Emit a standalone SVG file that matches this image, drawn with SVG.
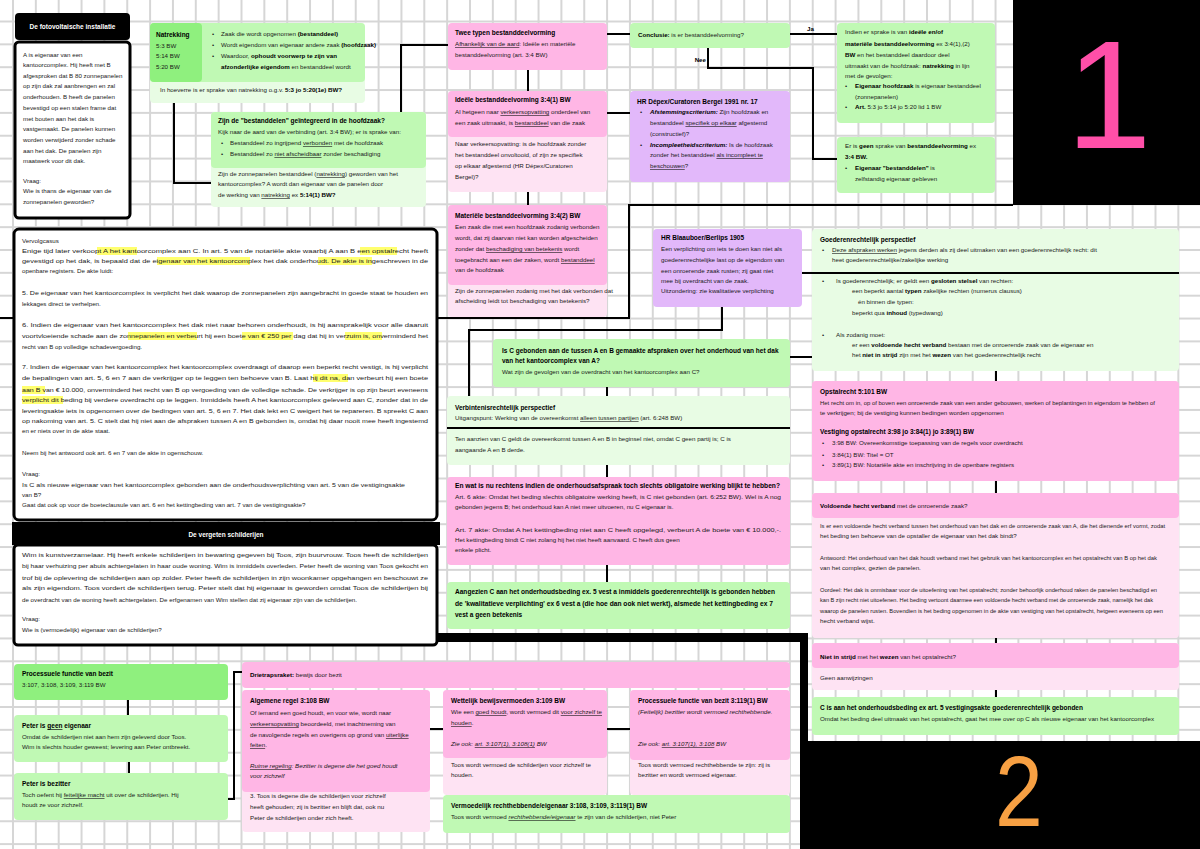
<svg xmlns="http://www.w3.org/2000/svg" width="1200" height="849" viewBox="0 0 1200 849">
<defs>
<pattern id="grid" width="22.85" height="22.85" patternUnits="userSpaceOnUse" x="12" y="20.5">
<path d="M1 0 V22.85 M0 1 H22.85" stroke="#d6d6d6" stroke-width="2" fill="none"/>
</pattern>
</defs>
<style>
.t{font-family:"Liberation Sans",Arial,sans-serif;font-size:6.2px;fill:#1a1a1a}
.b{font-weight:bold;fill:#000}
.h{font-family:"Liberation Sans",Arial,sans-serif;font-weight:bold;font-size:6.5px;fill:#000}
.i{font-style:italic}
.w{fill:#fff}
.pk{fill:#ffb6e5}.lpk{fill:#fee3f3}.gr{fill:#c0f9b4}.dg{fill:#8ff07e}.lg{fill:#e8fce4}.pu{fill:#e2b8fa}
.bx{fill:#fff;stroke:#000;stroke-width:3}
.c{fill:none;stroke:#000;stroke-width:2}
.hl{fill:#ffff6e}
</style>
<rect width="1200" height="849" fill="#fff"/>
<rect width="1200" height="849" fill="url(#grid)"/>

<g id="regions">
<rect x="1013" y="0" width="187" height="205" fill="#000"/>
<text x="1066" y="148" font-family="Liberation Sans,Arial,sans-serif" font-size="154" fill="#ff4fa8">1</text>
<rect x="800" y="741" width="400" height="108" fill="#000"/>
<text transform="translate(995,826) scale(0.86,1)" font-family="Liberation Sans,Arial,sans-serif" font-size="100" fill="#f7a043">2</text>
<rect x="437" y="633" width="371" height="9" fill="#000"/>
<rect x="800" y="633" width="8" height="110" fill="#000"/>
</g>

<g id="connectors">
<path class="c" d="M0 318 H629 V205 H1013"/>
<path class="c" d="M174 103 V183 H211"/>
<path class="c" d="M401 112 V45 H448"/>
<path class="c" d="M528 70 V91"/>
<path class="c" d="M528 192 V205"/>
<path class="c" d="M607 34 H630"/>
<path class="c" d="M607 113 H630"/>
<path class="c" d="M790 34 H837"/>
<path class="c" d="M708 48 V68 H813 V159 H837"/>
<path class="c" d="M722 307 V330 H469 V396"/>
<path class="c" d="M607 387 V396"/>
<path class="c" d="M790 357 H812"/>
<path class="c" d="M607 465 V477"/>
<path class="c" d="M607 565 V582"/>
<path class="c" d="M996 371 V381"/>
<path class="c" d="M996 481 V493"/>
<path class="c" d="M996 638 V643"/>
<path class="c" d="M996 690 V697"/>
<path class="c" d="M128 700 V715"/>
<path class="c" d="M129 762 V773"/>
<path class="c" d="M228 799 H234 V672 H242"/>
<path class="c" d="M430 729 H443"/>
<path class="c" d="M607 729 H630"/>
<text class="t b" x="807" y="31">Ja</text>
<text class="t b" x="706" y="62" text-anchor="end">Nee</text>
</g>

<g id="casus-header">
<rect x="15" y="13" width="115" height="27" rx="4" fill="#000"/>
<text class="h w" x="72.5" y="29" text-anchor="middle" style="fill:#fff">De fotovoltaische installatie</text>
</g>

<g id="casus">
<rect class="bx" x="15" y="42" width="115" height="176" rx="4"/>
<text class="t" x="23" y="57">A is eigenaar van een</text>
<text class="t" x="23" y="67">kantoorcomplex. Hij heeft met B</text>
<text class="t" x="23" y="78">afgesproken dat B 80 zonnepanelen</text>
<text class="t" x="23" y="88">op zijn dak zal aanbrengen en zal</text>
<text class="t" x="23" y="99">onderhouden. B heeft de panelen</text>
<text class="t" x="23" y="110">bevestigd op een stalen frame dat</text>
<text class="t" x="23" y="121">met bouten aan het dak is</text>
<text class="t" x="23" y="131">vastgemaakt. De panelen kunnen</text>
<text class="t" x="23" y="142">worden verwijderd zonder schade</text>
<text class="t" x="23" y="153">aan het dak. De panelen zijn</text>
<text class="t" x="23" y="163">maatwerk voor dit dak.</text>
<text class="t" x="23" y="183">Vraag:</text>
<text class="t" x="23" y="193">Wie is thans de eigenaar van de</text>
<text class="t" x="23" y="204">zonnepanelen geworden?</text>
</g>

<g id="natrekking">
<rect class="lg" x="150" y="23" width="215" height="80" rx="4"/>
<rect class="gr" x="150" y="23" width="215" height="59" rx="4"/>
<rect class="dg" x="150" y="23" width="52" height="59" rx="4"/>
<text class="h" x="156" y="37">Natrekking</text>
<text class="t" x="156" y="48">5:3 BW</text>
<text class="t" x="156" y="58">5:14 BW</text>
<text class="t" x="156" y="69">5:20 BW</text>
<text class="t" x="212" y="36">•</text><text class="t" x="221" y="36">Zaak die wordt opgenomen <tspan class="b">(bestanddeel)</tspan></text>
<text class="t" x="212" y="47">•</text><text class="t" x="221" y="47">Wordt eigendom van eigenaar andere zaak <tspan class="b">(hoofdzaak)</tspan></text>
<text class="t" x="212" y="58">•</text><text class="t" x="221" y="58">Waardoor, <tspan class="b">ophoudt voorwerp te zijn van</tspan></text>
<text class="t" x="221" y="69"><tspan class="b">afzonderlijke eigendom</tspan> en bestanddeel wordt</text>
<text class="t" x="160" y="92">In hoeverre is er sprake van natrekking o.g.v. <tspan class="b">5:3 jo 5:20(1e) BW?</tspan></text>
</g>

<g id="integratie">
<rect class="lg" x="211" y="112" width="215" height="95" rx="4"/>
<rect class="gr" x="211" y="112" width="215" height="56" rx="4"/>
<text class="h" x="218" y="123">Zijn de "bestanddelen" geïntegreerd in de hoofdzaak?</text>
<text class="t" x="218" y="134">Kijk naar de aard van de verbinding (art. 3:4 BW); er is sprake van:</text>
<text class="t" x="221" y="145">•</text><text class="t" x="230" y="145">Bestanddeel zo ingrijpend <tspan text-decoration="underline">verbonden</tspan> met de hoofdzaak</text>
<text class="t" x="221" y="156">•</text><text class="t" x="230" y="156">Bestanddeel zo <tspan text-decoration="underline">niet afscheidbaar</tspan> zonder beschadiging</text>
<text class="t" x="218" y="176">Zijn de zonnepanelen bestanddeel (<tspan text-decoration="underline">natrekking</tspan>) geworden van het</text>
<text class="t" x="218" y="186">kantoorcomplex? A wordt dan eigenaar van de panelen door</text>
<text class="t" x="218" y="197">de werking van <tspan text-decoration="underline">natrekking</tspan> ex <tspan class="b">5:14(1) BW?</tspan></text>
</g>

<g id="twee-typen">
<rect class="pk" x="448" y="23" width="159" height="47" rx="4"/>
<text class="h" x="455" y="35">Twee typen bestanddeelvorming</text>
<text class="t" x="455" y="46"><tspan text-decoration="underline">Afhankelijk van de aard</tspan>: Ideële en materiële</text>
<text class="t" x="455" y="57">bestanddeelvorming (art. 3:4 BW)</text>
</g>

<g id="ideele">
<rect class="lpk" x="448" y="91" width="159" height="101" rx="4"/>
<rect class="pk" x="448" y="91" width="159" height="46" rx="4"/>
<text class="h" x="455" y="102">Ideële bestanddeelvorming 3:4(1) BW</text>
<text class="t" x="455" y="114">Al hetgeen naar <tspan text-decoration="underline">verkeersopvatting</tspan> onderdeel van</text>
<text class="t" x="455" y="125">een zaak uitmaakt, is <tspan text-decoration="underline">bestanddeel</tspan> van die zaak</text>
<text class="t" x="455" y="146">Naar verkeersopvatting: is de hoofdzaak zonder</text>
<text class="t" x="455" y="157">het bestanddeel onvoltooid, of zijn ze specifiek</text>
<text class="t" x="455" y="168">op elkaar afgestemd (HR Dépex/Curatoren</text>
<text class="t" x="455" y="179">Bergel)?</text>
</g>

<g id="materiele">
<rect class="lpk" x="448" y="205" width="159" height="112" rx="4"/>
<rect class="pk" x="448" y="205" width="159" height="80" rx="4"/>
<text class="h" x="455" y="218">Materiële bestanddeelvorming 3:4(2) BW</text>
<text class="t" x="455" y="229">Een zaak die met een hoofdzaak zodanig verbonden</text>
<text class="t" x="455" y="240">wordt, dat zij daarvan niet kan worden afgescheiden</text>
<text class="t" x="455" y="251">zonder dat <tspan text-decoration="underline">beschadiging van betekenis</tspan> wordt</text>
<text class="t" x="455" y="262">toegebracht aan een der zaken, wordt <tspan text-decoration="underline">bestanddeel</tspan></text>
<text class="t" x="455" y="272">van de hoofdzaak</text>
<text class="t" x="455" y="293">Zijn de zonnepanelen zodanig met het dak verbonden dat</text>
<text class="t" x="455" y="303">afscheiding leidt tot beschadiging van betekenis?</text>
</g>

<g id="conclusie">
<rect class="gr" x="630" y="23" width="160" height="25" rx="4"/>
<text class="t" x="638" y="37"><tspan class="b">Conclusie:</tspan> is er bestanddeelvorming?</text>
</g>

<g id="depex">
<rect class="pu" x="630" y="91" width="160" height="91" rx="4"/>
<text class="h" x="637" y="104">HR Dépex/Curatoren Bergel 1991 nr. 17</text>
<text class="t" x="640" y="114">•</text><text class="t" x="650" y="114"><tspan class="b i">Afstemmingscriterium:</tspan> Zijn hoofdzaak en</text>
<text class="t" x="650" y="125">bestanddeel <tspan text-decoration="underline">specifiek op elkaar</tspan> afgestemd</text>
<text class="t" x="650" y="136">(constructief)?</text>
<text class="t" x="640" y="147">•</text><text class="t" x="650" y="147"><tspan class="b i">Incompleetheidscriterium:</tspan> Is de hoofdzaak</text>
<text class="t" x="650" y="157">zonder het bestanddeel <tspan text-decoration="underline">als incompleet te</tspan></text>
<text class="t" x="650" y="168"><tspan text-decoration="underline">beschouwen</tspan>?</text>
</g>

<g id="wel-bestanddeel">
<rect class="gr" x="837" y="23" width="158" height="100" rx="4"/>
<text class="t" x="845" y="34">Indien er sprake is van <tspan class="b">ideële en/of</tspan></text>
<text class="t" x="845" y="46"><tspan class="b">materiële bestanddeelvorming</tspan> ex 3:4(1),(2)</text>
<text class="t" x="845" y="57"><tspan class="b">BW</tspan> en het bestanddeel daardoor deel</text>
<text class="t" x="845" y="68">uitmaakt van de hoofdzaak: <tspan class="b">natrekking</tspan> in lijn</text>
<text class="t" x="845" y="78">met de gevolgen:</text>
<text class="t" x="845" y="88">•</text><text class="t" x="855" y="88"><tspan class="b">Eigenaar hoofdzaak</tspan> is eigenaar bestanddeel</text>
<text class="t" x="855" y="99">(zonnepanelen)</text>
<text class="t" x="845" y="109">•</text><text class="t" x="855" y="109"><tspan class="b">Art.</tspan> 5:3 jo 5:14 jo 5:20 lid 1 BW</text>
</g>

<g id="geen-bestanddeel">
<rect class="gr" x="837" y="137" width="158" height="56" rx="4"/>
<text class="t" x="845" y="148">Er is <tspan class="b">geen</tspan> sprake van <tspan class="b">bestanddeelvorming</tspan> ex</text>
<text class="t b" x="845" y="159">3:4 BW.</text>
<text class="t" x="845" y="170">•</text><text class="t" x="855" y="170"><tspan class="b">Eigenaar "bestanddelen"</tspan> is</text>
<text class="t" x="855" y="181">zelfstandig eigenaar gebleven</text>
</g>

<g id="vervolgcasus">
<rect class="bx" x="14" y="229" width="423" height="291" rx="5"/>
<rect class="hl" x="97" y="247" width="40" height="8"/>
<rect class="hl" x="360" y="247" width="37" height="8"/>
<rect class="hl" x="157" y="257" width="93" height="8"/>
<rect class="hl" x="318" y="257" width="54" height="8"/>
<rect class="hl" x="128" y="332" width="69" height="8"/>
<rect class="hl" x="242" y="332" width="51" height="8"/>
<rect class="hl" x="345" y="332" width="37" height="8"/>
<rect class="hl" x="313" y="374" width="35" height="8"/>
<rect class="hl" x="22" y="386" width="23" height="8"/>
<rect class="hl" x="22" y="396" width="41" height="8"/>
<text class="t" x="22" y="243">Vervolgcasus</text>
<text class="t" x="22" y="253" textLength="406" lengthAdjust="spacingAndGlyphs">Enige tijd later verkoopt A het kantoorcomplex aan C. In art. 5 van de notariële akte waarbij A aan B een opstalrecht heeft</text>
<text class="t" x="22" y="263" textLength="406" lengthAdjust="spacingAndGlyphs">gevestigd op het dak, is bepaald dat de eigenaar van het kantoorcomplex het dak onderhoudt. De akte is ingeschreven in de</text>
<text class="t" x="22" y="273">openbare registers. De akte luidt:</text>
<text class="t" x="22" y="295" textLength="406" lengthAdjust="spacingAndGlyphs">5. De eigenaar van het kantoorcomplex is verplicht het dak waarop de zonnepanelen zijn aangebracht in goede staat te houden en</text>
<text class="t" x="22" y="306">lekkages direct te verhelpen.</text>
<text class="t" x="22" y="327" textLength="406" lengthAdjust="spacingAndGlyphs">6. Indien de eigenaar van het kantoorcomplex het dak niet naar behoren onderhoudt, is hij aansprakelijk voor alle daaruit</text>
<text class="t" x="22" y="338" textLength="406" lengthAdjust="spacingAndGlyphs">voortvloeiende schade aan de zonnepanelen en verbeurt hij een boete van € 250 per dag dat hij in verzuim is, onverminderd het</text>
<text class="t" x="22" y="349">recht van B op volledige schadevergoeding.</text>
<text class="t" x="22" y="369" textLength="406" lengthAdjust="spacingAndGlyphs">7. Indien de eigenaar van het kantoorcomplex het kantoorcomplex overdraagt of daarop een beperkt recht vestigt, is hij verplicht</text>
<text class="t" x="22" y="380" textLength="406" lengthAdjust="spacingAndGlyphs">de bepalingen van art. 5, 6 en 7 aan de verkrijger op te leggen ten behoeve van B. Laat hij dit na, dan verbeurt hij een boete</text>
<text class="t" x="22" y="392" textLength="406" lengthAdjust="spacingAndGlyphs">aan B van € 10.000, onverminderd het recht van B op vergoeding van de volledige schade. De verkrijger is op zijn beurt eveneens</text>
<text class="t" x="22" y="402" textLength="406" lengthAdjust="spacingAndGlyphs">verplicht dit beding bij verdere overdracht op te leggen. Inmiddels heeft A het kantoorcomplex geleverd aan C, zonder dat in de</text>
<text class="t" x="22" y="413" textLength="406" lengthAdjust="spacingAndGlyphs">leveringsakte iets is opgenomen over de bedingen van art. 5, 6 en 7. Het dak lekt en C weigert het te repareren. B spreekt C aan</text>
<text class="t" x="22" y="423" textLength="406" lengthAdjust="spacingAndGlyphs">op nakoming van art. 5. C stelt dat hij niet aan de afspraken tussen A en B gebonden is, omdat hij daar nooit mee heeft ingestemd</text>
<text class="t" x="22" y="433">en er niets over in de akte staat.</text>
<text class="t" x="22" y="455">Neem bij het antwoord ook art. 6 en 7 van de akte in ogenschouw.</text>
<text class="t" x="22" y="476">Vraag:</text>
<text class="t" x="22" y="487" textLength="383" lengthAdjust="spacingAndGlyphs">Is C als nieuwe eigenaar van het kantoorcomplex gebonden aan de onderhoudsverplichting van art. 5 van de vestigingsakte</text>
<text class="t" x="22" y="497">van B?</text>
<text class="t" x="22" y="507">Gaat dat ook op voor de boeteclausule van art. 6 en het kettingbeding van art. 7 van de vestigingsakte?</text>
</g>

<g id="schilderijen-header">
<rect x="12" y="522" width="428" height="23" fill="#000"/>
<text class="h" x="226" y="537" text-anchor="middle" style="fill:#fff">De vergeten schilderijen</text>
</g>

<g id="schilderijen">
<rect class="bx" x="14" y="545" width="423" height="100" rx="4"/>
<text class="t" x="22" y="557" textLength="406" lengthAdjust="spacingAndGlyphs">Wim is kunstverzamelaar. Hij heeft enkele schilderijen in bewaring gegeven bij Toos, zijn buurvrouw. Toos heeft de schilderijen</text>
<text class="t" x="22" y="568" textLength="406" lengthAdjust="spacingAndGlyphs">bij haar verhuizing per abuis achtergelaten in haar oude woning. Wim is inmiddels overleden. Peter heeft de woning van Toos gekocht en</text>
<text class="t" x="22" y="580" textLength="406" lengthAdjust="spacingAndGlyphs">trof bij de oplevering de schilderijen aan op zolder. Peter heeft de schilderijen in zijn woonkamer opgehangen en beschouwt ze</text>
<text class="t" x="22" y="590" textLength="406" lengthAdjust="spacingAndGlyphs">als zijn eigendom. Toos vordert de schilderijen terug. Peter stelt dat hij eigenaar is geworden omdat Toos de schilderijen bij</text>
<text class="t" x="22" y="602">de overdracht van de woning heeft achtergelaten. De erfgenamen van Wim stellen dat zij eigenaar zijn van de schilderijen.</text>
<text class="t" x="22" y="621">Vraag:</text>
<text class="t" x="22" y="632">Wie is (vermoedelijk) eigenaar van de schilderijen?</text>
</g>

<g id="blaauboer">
<rect class="pu" x="653" y="229" width="149" height="78" rx="4"/>
<text class="h" x="661" y="240">HR Blaauboer/Berlips 1905</text>
<text class="t" x="661" y="251">Een verplichting om iets te doen kan niet als</text>
<text class="t" x="661" y="262">goederenrechtelijke last op de eigendom van</text>
<text class="t" x="661" y="273">een onroerende zaak rusten; zij gaat niet</text>
<text class="t" x="661" y="283">mee bij overdracht van de zaak.</text>
<text class="t" x="661" y="293">Uitzondering: zie kwalitatieve verplichting</text>
</g>

<g id="goederenrechtelijk">
<rect class="lg" x="812" y="229" width="367" height="142" rx="4"/>
<path class="c" d="M802 273 H1179"/>
<text class="h" x="820" y="242">Goederenrechtelijk perspectief</text>
<text class="t" x="822" y="252">•</text><text class="t" x="832" y="252"><tspan text-decoration="underline">Deze afspraken werken</tspan> jegens derden als zij deel uitmaken van een goederenrechtelijk recht: dit</text>
<text class="t" x="832" y="262">heet goederenrechtelijke/zakelijke werking</text>
<text class="t" x="822" y="283">•</text><text class="t" x="836" y="283">Is goederenrechtelijk; er geldt een <tspan class="b">gesloten stelsel</tspan> van rechten:</text>
<text class="t" x="852" y="293">een beperkt aantal <tspan class="b">typen</tspan> zakelijke rechten (numerus clausus)</text>
<text class="t" x="858" y="304">én binnen die typen:</text>
<text class="t" x="852" y="315">beperkt qua <tspan class="b">inhoud</tspan> (typedwang)</text>
<text class="t" x="822" y="337">•</text><text class="t" x="836" y="337">Als zodanig moet:</text>
<text class="t" x="852" y="347">er een <tspan class="b">voldoende hecht verband</tspan> bestaan met de onroerende zaak van de eigenaar en</text>
<text class="t" x="852" y="357">het <tspan class="b">niet in strijd</tspan> zijn met het <tspan class="b">wezen</tspan> van het goederenrechtelijk recht</text>
</g>

<g id="is-c-gebonden">
<rect class="gr" x="493" y="339" width="297" height="48" rx="4"/>
<text class="h" x="502" y="353">Is C gebonden aan de tussen A en B gemaakte afspraken over het onderhoud van het dak</text>
<text class="h" x="502" y="363">van het kantoorcomplex van A?</text>
<text class="t" x="502" y="374">Wat zijn de gevolgen van de overdracht van het kantoorcomplex aan C?</text>
</g>

<g id="verbintenisrechtelijk">
<rect class="lg" x="447" y="396" width="343" height="69" rx="4"/>
<path class="c" d="M447 428 H790"/>
<text class="h" x="455" y="410">Verbintenisrechtelijk perspectief</text>
<text class="t" x="455" y="420">Uitgangspunt: Werking van de overeenkomst <tspan text-decoration="underline">alleen tussen partijen</tspan> (art. 6:248 BW)</text>
<text class="t" x="455" y="441">Ten aanzien van C geldt de overeenkomst tussen A en B in beginsel niet, omdat C geen partij is; C is</text>
<text class="t" x="455" y="452">aangaande A en B derde.</text>
</g>

<g id="obligatoir">
<rect class="pk" x="447" y="477" width="343" height="88" rx="4"/>
<text class="h" x="455" y="488" textLength="325" lengthAdjust="spacingAndGlyphs">En wat is nu rechtens indien de onderhoudsafspraak toch slechts obligatoire werking blijkt te hebben?</text>
<text class="t" x="455" y="499" textLength="326" lengthAdjust="spacingAndGlyphs">Art. 6 akte: Omdat het beding slechts obligatoire werking heeft, is C niet gebonden (art. 6:252 BW). Wel is A nog</text>
<text class="t" x="455" y="509">gebonden jegens B; het onderhoud kan A niet meer uitvoeren, nu C eigenaar is.</text>
<text class="t" x="455" y="532" textLength="326" lengthAdjust="spacingAndGlyphs">Art. 7 akte: Omdat A het kettingbeding niet aan C heeft opgelegd, verbeurt A de boete van € 10.000,-.</text>
<text class="t" x="455" y="542">Het kettingbeding bindt C niet zolang hij het niet heeft aanvaard. C heeft dus geen</text>
<text class="t" x="455" y="552">enkele plicht.</text>
</g>

<g id="aangezien">
<rect class="gr" x="447" y="582" width="343" height="47" rx="4"/>
<text class="h" x="455" y="594" textLength="320" lengthAdjust="spacingAndGlyphs">Aangezien C aan het onderhoudsbeding ex. 5 vest a inmiddels goederenrechtelijk is gebonden hebben</text>
<text class="h" x="455" y="606" textLength="318" lengthAdjust="spacingAndGlyphs">de 'kwalitatieve verplichting' ex 6 vest a (die hoe dan ook niet werkt), alsmede het kettingbeding ex 7</text>
<text class="h" x="455" y="617">vest a geen betekenis</text>
</g>

<g id="opstalrecht">
<rect class="pk" x="812" y="381" width="367" height="100" rx="4"/>
<text class="h" x="820" y="394">Opstalrecht 5:101 BW</text>
<text class="t" x="820" y="405" textLength="335" lengthAdjust="spacingAndGlyphs">Het recht om in, op of boven een onroerende zaak van een ander gebouwen, werken of beplantingen in eigendom te hebben of</text>
<text class="t" x="820" y="415">te verkrijgen; bij de vestiging kunnen bedingen worden opgenomen</text>
<text class="h" x="820" y="434">Vestiging opstalrecht 3:98 jo 3:84(1) jo 3:89(1) BW</text>
<text class="t" x="822" y="445">•</text><text class="t" x="832" y="445">3:98 BW: Overeenkomstige toepassing van de regels voor overdracht</text>
<text class="t" x="822" y="457">•</text><text class="t" x="832" y="457">3:84(1) BW: Titel = OT</text>
<text class="t" x="822" y="467">•</text><text class="t" x="832" y="467">3:89(1) BW: Notariële akte en inschrijving in de openbare registers</text>
</g>

<g id="hecht-verband">
<rect class="lpk" x="812" y="493" width="367" height="145" rx="4"/>
<rect class="pk" x="812" y="493" width="367" height="25" rx="4"/>
<text class="t" x="820" y="508"><tspan class="b">Voldoende hecht verband</tspan> met de onroerende zaak?</text>
<text class="t" x="820" y="528" textLength="345" lengthAdjust="spacingAndGlyphs">Is er een voldoende hecht verband tussen het onderhoud van het dak en de onroerende zaak van A, die het dienende erf vormt, zodat</text>
<text class="t" x="820" y="538">het beding ten behoeve van de opstaller de eigenaar van het dak bindt?</text>
<text class="t" x="820" y="560" textLength="337" lengthAdjust="spacingAndGlyphs">Antwoord: Het onderhoud van het dak houdt verband met het gebruik van het kantoorcomplex en het opstalrecht van B op het dak</text>
<text class="t" x="820" y="570">van het complex, gezien de panelen.</text>
<text class="t" x="820" y="592" textLength="337" lengthAdjust="spacingAndGlyphs">Oordeel: Het dak is onmisbaar voor de uitoefening van het opstalrecht; zonder behoorlijk onderhoud raken de panelen beschadigd en</text>
<text class="t" x="820" y="602" textLength="333" lengthAdjust="spacingAndGlyphs">kan B zijn recht niet uitoefenen. Het beding vertoont daarmee een voldoende hecht verband met de onroerende zaak, namelijk het dak</text>
<text class="t" x="820" y="613" textLength="343" lengthAdjust="spacingAndGlyphs">waarop de panelen rusten. Bovendien is het beding opgenomen in de akte van vestiging van het opstalrecht, hetgeen eveneens op een</text>
<text class="t" x="820" y="623">hecht verband wijst.</text>
</g>

<g id="wezen">
<rect class="lpk" x="812" y="643" width="367" height="47" rx="4"/>
<rect class="pk" x="812" y="643" width="367" height="25" rx="4"/>
<text class="t" x="820" y="659"><tspan class="b">Niet in strijd</tspan> met het <tspan class="b">wezen</tspan> van het opstalrecht?</text>
<text class="t" x="820" y="680">Geen aanwijzingen</text>
</g>

<g id="c-gebonden">
<rect class="gr" x="812" y="697" width="367" height="38" rx="4"/>
<text class="h" x="820" y="710">C is aan het onderhoudsbeding ex art. 5 vestigingsakte goederenrechtelijk gebonden</text>
<text class="t" x="820" y="721">Omdat het beding deel uitmaakt van het opstalrecht, gaat het mee over op C als nieuwe eigenaar van het kantoorcomplex</text>
</g>

<g id="processuele-functie">
<rect class="dg" x="14" y="664" width="214" height="36" rx="4"/>
<text class="h" x="22" y="676">Processuele functie van bezit</text>
<text class="t" x="22" y="687">3:107, 3:108, 3:109, 3:119 BW</text>
</g>

<g id="peter-geen-eigenaar">
<rect class="gr" x="14" y="715" width="214" height="47" rx="4"/>
<text class="h" x="22" y="728">Peter is <tspan text-decoration="underline">geen</tspan> eigenaar</text>
<text class="t" x="22" y="739">Omdat de schilderijen niet aan hem zijn geleverd door Toos.</text>
<text class="t" x="22" y="749">Wim is slechts houder geweest; levering aan Peter ontbreekt.</text>
</g>

<g id="peter-bezitter">
<rect class="gr" x="14" y="773" width="214" height="47" rx="4"/>
<text class="h" x="22" y="786">Peter is bezitter</text>
<text class="t" x="22" y="797">Toch oefent hij <tspan text-decoration="underline">feitelijke macht</tspan> uit over de schilderijen. Hij</text>
<text class="t" x="22" y="807">houdt ze voor zichzelf.</text>
</g>

<g id="drietrapsraket">
<rect class="pk" x="242" y="662" width="548" height="26" rx="4"/>
<text class="t" x="250" y="677"><tspan class="b">Drietrapsraket:</tspan> bewijs door bezit</text>
</g>

<g id="algemene-regel">
<rect class="lpk" x="242" y="690" width="188" height="142" rx="4"/>
<rect class="pk" x="242" y="690" width="188" height="102" rx="4"/>
<text class="h" x="250" y="703">Algemene regel 3:108 BW</text>
<text class="t" x="250" y="715">Of iemand een goed houdt, en voor wie, wordt naar</text>
<text class="t" x="250" y="726"><tspan text-decoration="underline">verkeersopvatting</tspan> beoordeeld, met inachtneming van</text>
<text class="t" x="250" y="737">de navolgende regels en overigens op grond van <tspan text-decoration="underline">uiterlijke</tspan></text>
<text class="t" x="250" y="747"><tspan text-decoration="underline">feiten</tspan>.</text>
<text class="t i" x="250" y="768"><tspan text-decoration="underline">Ruime regeling</tspan>: Bezitter is degene die het goed houdt</text>
<text class="t i" x="250" y="778">voor zichzelf</text>
<text class="t" x="250" y="798">3. Toos is degene die de schilderijen voor zichzelf</text>
<text class="t" x="250" y="809">heeft gehouden; zij is bezitter en blijft dat, ook nu</text>
<text class="t" x="250" y="820">Peter de schilderijen onder zich heeft.</text>
</g>

<g id="bewijsvermoeden">
<rect class="lpk" x="443" y="690" width="164" height="105" rx="4"/>
<rect class="pk" x="443" y="690" width="164" height="68" rx="4"/>
<text class="h" x="451" y="703">Wettelijk bewijsvermoeden 3:109 BW</text>
<text class="t" x="451" y="714">Wie een <tspan text-decoration="underline">goed houdt</tspan>, wordt vermoed dit <tspan text-decoration="underline">voor zichzelf te</tspan></text>
<text class="t" x="451" y="725"><tspan text-decoration="underline">houden</tspan>.</text>
<text class="t i" x="451" y="746">Zie ook: <tspan text-decoration="underline">art. 3:107(1), 3:108(1)</tspan> BW</text>
<text class="t" x="451" y="767">Toos wordt vermoed de schilderijen voor zichzelf te</text>
<text class="t" x="451" y="777">houden.</text>
</g>

<g id="processuele-119">
<rect class="lpk" x="630" y="690" width="160" height="105" rx="4"/>
<rect class="pk" x="630" y="690" width="160" height="70" rx="4"/>
<text class="h" x="638" y="703">Processuele functie van bezit 3:119(1) BW</text>
<text class="t i" x="638" y="714">(Feitelijk) bezitter wordt vermoed rechthebbende.</text>
<text class="t i" x="638" y="746">Zie ook: <tspan text-decoration="underline">art. 3:107(1), 3:108</tspan> BW</text>
<text class="t" x="638" y="767">Toos wordt vermoed rechthebbende te zijn: zij is</text>
<text class="t" x="638" y="777">bezitter en wordt vermoed eigenaar.</text>
</g>

<g id="vermoedelijk-eigenaar">
<rect class="gr" x="443" y="795" width="347" height="38" rx="4"/>
<text class="h" x="451" y="808">Vermoedelijk rechthebbende/eigenaar 3:108, 3:109, 3:119(1) BW</text>
<text class="t" x="451" y="819">Toos wordt vermoed <tspan class="i" text-decoration="underline">rechthebbende/eigenaar</tspan> te zijn van de schilderijen, niet Peter</text>
</g>
</svg>
